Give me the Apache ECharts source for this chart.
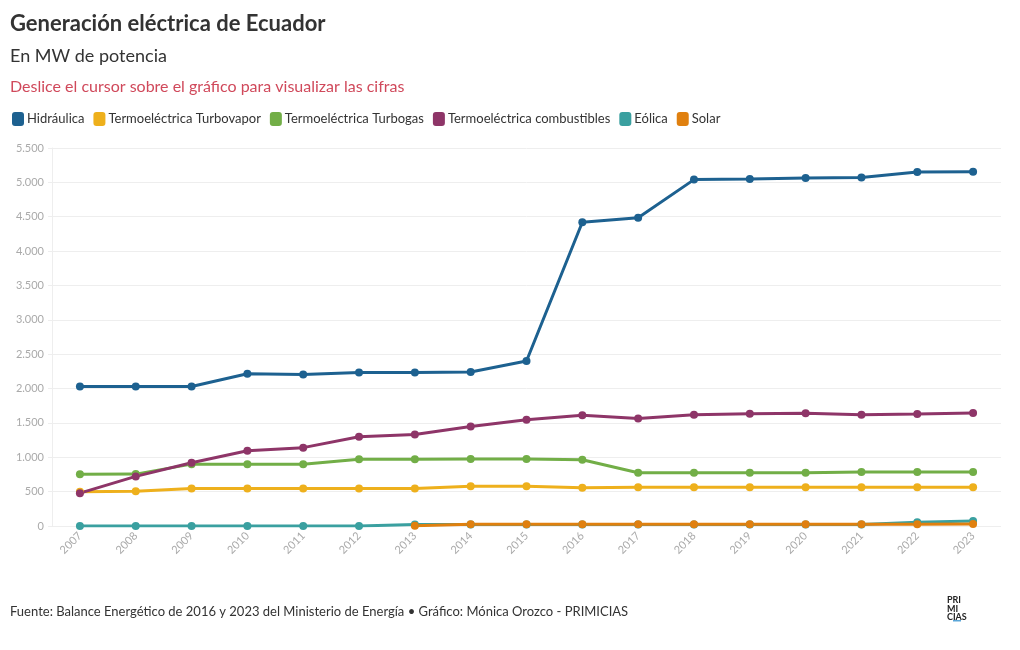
<!DOCTYPE html>
<html>
<head>
<meta charset="utf-8">
<script src="https://cdn.jsdelivr.net/npm/echarts@6/dist/echarts.min.js"></script>
<style>html,body{margin:0;padding:0;background:#fff}#c{width:1020px;height:650px}</style>
</head>
<body>
<div id="c"></div>
<script>
const years = ['2007','2008','2009','2010','2011','2012','2013','2014','2015','2016','2017','2018','2019','2020','2021','2022','2023'];
const hidraulica = [2030,2030,2030,2215,2205,2235,2235,2240,2400,4420,4485,5040,5050,5065,5070,5150,5155];
const turbovapor = [500,505,545,547,547,547,547,580,580,555,565,565,565,565,565,565,565];
const turbogas = [752,755,900,900,900,970,970,975,975,965,776,776,776,776,786,786,786];
const combustibles = [478,722,920,1095,1140,1300,1330,1448,1545,1610,1565,1620,1635,1640,1620,1630,1645];
const eolica = [0,0,0,0,0,0,21,21,21,21,21,21,21,21,21,54,74];
const solar = [null,null,null,null,null,null,4,26,26,26,26,26,26,26,26,27,28];
const yTicks = [0,500,1000,1500,2000,2500,3000,3500,4000,4500,5000,5500];

const FONT = 'Lato, "Noto Sans", sans-serif';
const chart = echarts.init(document.getElementById('c'));
function fmt(v){ return String(v).replace(/\B(?=(\d{3})+(?!\d))/g,'.'); }
function mk(name, data, color){
  return {name, type:'line', data, color, lineStyle:{width:3,color}, itemStyle:{color},
    symbol:'circle', symbolSize:8, showSymbol:true, connectNulls:false};
}
chart.setOption({
  animation:false,
  textStyle:{fontFamily:FONT},
  title:[
    {text:'Generación eléctrica de Ecuador', left:5, top:8, textStyle:{fontFamily:FONT,fontSize:22,fontWeight:'bold',color:'#333'}},
    {text:'En MW de potencia', left:5, top:42, textStyle:{fontFamily:FONT,fontSize:18,fontWeight:'normal',color:'#333'}},
    {text:'Deslice el cursor sobre el gráfico para visualizar las cifras', left:5, top:74, textStyle:{fontFamily:FONT,fontSize:16,fontWeight:'normal',color:'#d0495b'}},
    {text:'Fuente: Balance Energético de 2016 y 2023 del Ministerio de Energía • Gráfico: Mónica Orozco - PRIMICIAS', left:5, top:600, textStyle:{fontFamily:FONT,fontSize:13,fontWeight:'normal',color:'#333'}}
  ],
  legend:{left:7, top:107, itemWidth:12, itemHeight:14, itemGap:9, icon:'roundRect',
    textStyle:{fontFamily:FONT,fontSize:13,color:'#333',padding:[0,0,0,-2]},
    data:['Hidráulica','Termoeléctrica Turbovapor','Termoeléctrica Turbogas','Termoeléctrica combustibles','Eólica','Solar']},
  grid:{left:52, right:19, top:148, bottom:124},
  xAxis:{type:'category', data:years, boundaryGap:true,
    axisLine:{show:false}, axisTick:{show:false},
    axisLabel:{rotate:45, color:'#aaa', fontSize:11, margin:8, fontFamily:FONT}},
  yAxis:{type:'value', min:0, max:5500, interval:500,
    axisLine:{show:true, lineStyle:{color:'#eee'}},
    axisTick:{show:true, length:4, lineStyle:{color:'#eee'}},
    splitLine:{lineStyle:{color:'#eee'}},
    axisLabel:{color:'#aaa', fontSize:11, margin:8, fontFamily:FONT, formatter:v=>fmt(v)}},
  series:[
    mk('Hidráulica', hidraulica, '#1d6190'),
    mk('Termoeléctrica Turbovapor', turbovapor, '#eeb01c'),
    mk('Termoeléctrica Turbogas', turbogas, '#72ae47'),
    mk('Termoeléctrica combustibles', combustibles, '#8e3568'),
    mk('Eólica', eolica, '#3aa0a0'),
    mk('Solar', solar, '#e0800f')
  ],
  graphic:[
    {type:'text', left:947, top:596, style:{text:'PRI\nMI\nCIAS', font:'bold 9px '+FONT, fill:'#222', lineHeight:8.5}},
    {type:'rect', left:953, top:620, shape:{width:8,height:1.5}, style:{fill:'#5aa6d8'}}
  ]
});
</script>
</body>
</html>
